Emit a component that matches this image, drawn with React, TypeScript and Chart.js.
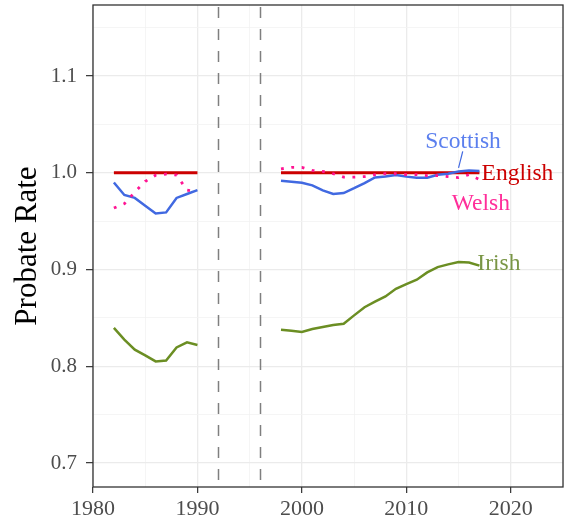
import React, { useEffect, useRef } from 'react';
import { Chart, registerables } from 'chart.js';

Chart.register(...registerables);

// ---- data ----
const yearsA = [1982, 1983, 1984, 1985, 1986, 1987, 1988, 1989, 1990];
const yearsB = [1998, 1999, 2000, 2001, 2002, 2003, 2004, 2005, 2006, 2007, 2008, 2009, 2010, 2011, 2012, 2013, 2014, 2015, 2016, 2017];

const englishA = [1, 1, 1, 1, 1, 1, 1, 1, 1];
const englishB = [1, 1, 1, 1, 1, 1, 1, 1, 1, 1, 1, 1, 1, 1, 1, 1, 1, 1, 1, 1];

const scottishA = [0.990, 0.977, 0.974, 0.966, 0.958, 0.959, 0.974, 0.978, 0.982];
const scottishB = [0.9917, 0.9907, 0.9897, 0.987, 0.9817, 0.978, 0.979, 0.984, 0.9893, 0.9952, 0.9962, 0.9976, 0.996, 0.9948, 0.9948, 0.998, 0.999, 1.0014, 1.0024, 1.0017];

const welshA = [0.9635, 0.968, 0.980, 0.991, 0.9975, 0.9986, 0.9976, 0.982, 0.980];
const welshB = [1.004, 1.0055, 1.0055, 1.0024, 1.0014, 0.999, 0.9955, 0.9955, 0.996, 0.998, 0.999, 0.999, 0.998, 0.998, 0.997, 0.997, 0.996, 0.995, 0.998, 0.993];

const irishA = [0.8396, 0.8275, 0.8172, 0.8113, 0.805, 0.806, 0.8195, 0.8247, 0.822];
const irishB = [0.8378, 0.8368, 0.8354, 0.8385, 0.8406, 0.8427, 0.844, 0.8526, 0.861, 0.8667, 0.8722, 0.880, 0.885, 0.8895, 0.897, 0.9025, 0.9053, 0.9077, 0.9073, 0.904];

const gapYear = 1994;
const breakYears = [1992, 1996];

const xTicks = [1980, 1985, 1990, 1995, 2000, 2005, 2010, 2015, 2020, 2025];
const xMajor = [1980, 1990, 2000, 2010, 2020];
const yTicks = [0.7, 0.75, 0.8, 0.85, 0.9, 0.95, 1.0, 1.05, 1.1, 1.15];
const yMajor = [0.7, 0.8, 0.9, 1.0, 1.1];

const labelNames = ['Scottish', 'English', 'Welsh', 'Irish'];
const labelYears = [2011.8, 2017.2, 2014.35, 2016.8];
const labelValues = [1.0258, 0.9928, 0.9618, 0.8997];
const labelColors = ['#5b7fee', '#cc0000', '#ff2e9a', '#7a9646'];

const leaderYears = [2015.4, 2015.0];
const leaderValues = [1.0221, 1.005];

const COL_EN = '#cc0000';
const COL_SC = '#4169e1';
const COL_WE = '#ff1493';
const COL_IR = '#6b8e23';

const FONT = "'Liberation Serif', serif";

function series(a: number[], b: number[]) {
  return [
    ...yearsA.map((x, i) => ({ x, y: a[i] })),
    { x: gapYear, y: null as any },
    ...yearsB.map((x, i) => ({ x, y: b[i] })),
  ];
}

const isMajor = (list: number[], v: number) => list.some((m) => Math.abs(m - v) < 1e-6);

const overlayPlugin = {
  id: 'overlay',
  beforeDatasetsDraw(chart: any) {
    const { ctx, chartArea, scales } = chart;
    ctx.save();
    ctx.strokeStyle = '#7f7f7f';
    ctx.lineWidth = 1.5;
    ctx.setLineDash([11, 11]);
    ctx.lineDashOffset = -2;
    breakYears.forEach((yr) => {
      const px = Math.round(scales.x.getPixelForValue(yr)) + 0.5;
      ctx.beginPath();
      ctx.moveTo(px, chartArea.top);
      ctx.lineTo(px, chartArea.bottom);
      ctx.stroke();
    });
    ctx.restore();
  },
  afterDatasetsDraw(chart: any) {
    const { ctx, chartArea, scales } = chart;
    ctx.save();
    // leader line
    ctx.strokeStyle = COL_SC;
    ctx.lineWidth = 1.2;
    ctx.beginPath();
    ctx.moveTo(scales.x.getPixelForValue(leaderYears[0]), scales.y.getPixelForValue(leaderValues[0]));
    ctx.lineTo(scales.x.getPixelForValue(leaderYears[1]), scales.y.getPixelForValue(leaderValues[1]));
    ctx.stroke();
    // labels
    ctx.font = `23.5px ${FONT}`;
    ctx.textAlign = 'left';
    ctx.textBaseline = 'alphabetic';
    labelNames.forEach((name, i) => {
      ctx.fillStyle = labelColors[i];
      ctx.fillText(name, scales.x.getPixelForValue(labelYears[i]), scales.y.getPixelForValue(labelValues[i]));
    });
    // panel border
    ctx.strokeStyle = '#333333';
    ctx.lineWidth = 1.3;
    ctx.strokeRect(chartArea.left, chartArea.top, chartArea.right - chartArea.left, chartArea.bottom - chartArea.top);
    ctx.restore();
  },
};

export default function App() {
  const ref = useRef<HTMLCanvasElement>(null);
  useEffect(() => {
    document.body.style.margin = '0';
    const chart = new Chart(ref.current as HTMLCanvasElement, {
      type: 'line',
      data: {
        datasets: [
          { label: 'English', data: series(englishA, englishB), borderColor: COL_EN, borderWidth: 3, pointRadius: 0, order: 4 },
          { label: 'Scottish', data: series(scottishA, scottishB), borderColor: COL_SC, borderWidth: 2.5, pointRadius: 0, order: 3 },
          { label: 'Irish', data: series(irishA, irishB), borderColor: COL_IR, borderWidth: 2.5, pointRadius: 0, order: 2 },
          { label: 'Welsh', data: series(welshA, welshB), borderColor: COL_WE, borderWidth: 2.8, borderDash: [2.8, 7.6], borderCapStyle: 'butt', pointRadius: 0, order: 1 },
        ] as any,
      },
      options: {
        animation: false,
        responsive: false,
        spanGaps: false,
        layout: { padding: { top: 5, right: 2, left: 0, bottom: 0 } },
        plugins: { legend: { display: false }, tooltip: { enabled: false } },
        elements: { line: { tension: 0 } },
        scales: {
          x: {
            type: 'linear',
            min: 1980,
            max: 2025,
            afterBuildTicks: (s: any) => { s.ticks = xTicks.map((v) => ({ value: v })); },
            afterFit: (s: any) => { s.height = 36; s.paddingLeft = 0; s.paddingRight = 0; },
            ticks: {
              autoSkip: false,
              maxRotation: 0,
              padding: 3,
              color: '#4d4d4d',
              font: { family: FONT, size: 22 },
              callback: (v: any) => (isMajor(xMajor, Number(v)) ? String(v) : ''),
            },
            grid: {
              color: (c: any) => (c.tick && isMajor(xMajor, c.tick.value) ? '#ebebeb' : '#f2f2f2'),
              lineWidth: (c: any) => (c.tick && isMajor(xMajor, c.tick.value) ? 1.3 : 0.8),
              tickColor: (c: any) => (c.tick && isMajor(xMajor, c.tick.value) ? '#333333' : 'rgba(0,0,0,0)'),
              tickWidth: 1.2,
              tickLength: 6,
              drawTicks: true,
            },
            border: { display: false },
          },
          y: {
            type: 'linear',
            min: 0.6752,
            max: 1.1734,
            afterBuildTicks: (s: any) => { s.ticks = yTicks.map((v) => ({ value: v })); },
            afterFit: (s: any) => { s.width = 93; s.paddingTop = 0; s.paddingBottom = 0; },
            ticks: {
              autoSkip: false,
              padding: 9,
              color: '#4d4d4d',
              font: { family: FONT, size: 21 },
              callback: (v: any) => (isMajor(yMajor, Number(v)) ? Number(v).toFixed(1) : ''),
            },
            grid: {
              color: (c: any) => (c.tick && isMajor(yMajor, c.tick.value) ? '#ebebeb' : '#f2f2f2'),
              lineWidth: (c: any) => (c.tick && isMajor(yMajor, c.tick.value) ? 1.3 : 0.8),
              tickColor: (c: any) => (c.tick && isMajor(yMajor, c.tick.value) ? '#333333' : 'rgba(0,0,0,0)'),
              tickWidth: 1.2,
              tickLength: 7,
              drawTicks: true,
            },
            border: { display: false },
            title: {
              display: true,
              text: 'Probate Rate',
              color: '#000000',
              font: { family: FONT, size: 31 },
              padding: { top: 9, bottom: 0 },
            },
          },
        },
      },
      plugins: [overlayPlugin],
    });
    return () => chart.destroy();
  }, []);
  return (
    <div style={{ width: 565, height: 523 }}>
      <canvas ref={ref} width={565} height={523} style={{ display: 'block' }} />
    </div>
  );
}
